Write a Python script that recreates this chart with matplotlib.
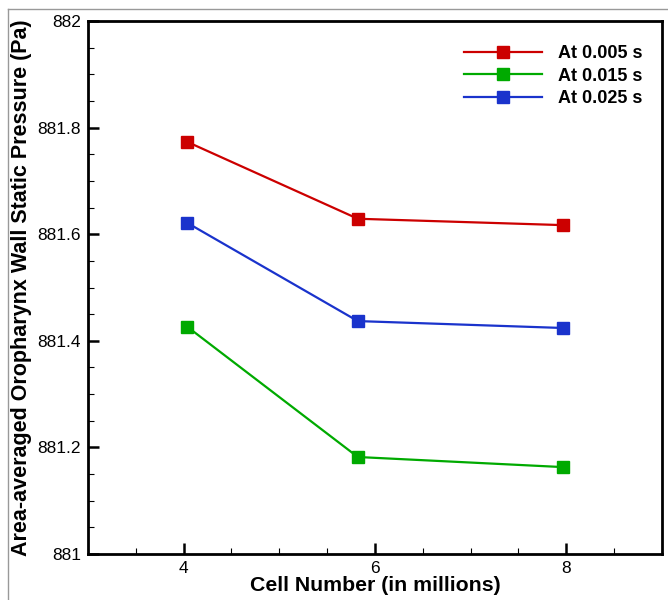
import matplotlib
matplotlib.use("Agg")
import matplotlib.pyplot as plt
from matplotlib.ticker import MultipleLocator
from matplotlib.lines import Line2D

plt.rcParams['font.family'] = ['Liberation Sans', 'DejaVu Sans']

cells = [4.04, 5.82, 7.97]
p_0005 = [881.773, 881.629, 881.617]
p_0015 = [881.426, 881.182, 881.163]
p_0025 = [881.621, 881.437, 881.424]
labels = ["At 0.005 s", "At 0.015 s", "At 0.025 s"]
colors = ["#CC0000", "#00AA00", "#1A33CC"]

fig = plt.figure(figsize=(6.68, 6.0), dpi=100)
ax = fig.add_axes([88/668, 46/600, (662-88)/668, (554-21)/600])

for ys, lab, c in zip([p_0005, p_0015, p_0025], labels, colors):
    ax.plot(cells, ys, color=c, lw=1.6, marker='s', markersize=8.5,
            markeredgecolor=c, label=lab)

ax.set_xlim(3, 9)
ax.set_ylim(881, 882)
ax.xaxis.set_major_locator(MultipleLocator(2))
ax.xaxis.set_minor_locator(MultipleLocator(0.5))
ax.yaxis.set_major_locator(MultipleLocator(0.2))
ax.yaxis.set_minor_locator(MultipleLocator(0.05))
ax.set_yticks([881, 881.2, 881.4, 881.6, 881.8, 882])
ax.set_yticklabels(["881", "881.2", "881.4", "881.6", "881.8", "882"])
ax.set_xticks([4, 6, 8])
ax.set_xticklabels(["4", "6", "8"])
ax.tick_params(which='major', direction='in', length=8, width=1.8, labelsize=12.5, pad=5)
ax.tick_params(which='minor', direction='in', length=4.5, width=0.8)
ax.tick_params(top=False, right=False, which='both')
for s in ax.spines.values():
    s.set_linewidth(2)

ax.set_xlabel("Cell Number (in millions)", fontsize=15.3, fontweight='bold', labelpad=0)
ax.set_ylabel("Area-averaged Oropharynx Wall Static Pressure (Pa)", fontsize=15.5,
              fontweight='bold', labelpad=4)

leg = ax.legend(loc='upper right', bbox_to_anchor=(0.994, 0.985), frameon=False,
                prop={'weight': 'bold', 'size': 13}, handlelength=4.3,
                handletextpad=0.9, labelspacing=0.3)

# gray frame of the screenshot
fig.add_artist(Line2D([8/668, 8/668], [0, 1 - 9/600], transform=fig.transFigure,
                      color='#999999', lw=1))
fig.add_artist(Line2D([8/668, 1], [1 - 9/600, 1 - 9/600], transform=fig.transFigure,
                      color='#999999', lw=1))

fig.savefig("out.png", dpi=100)
